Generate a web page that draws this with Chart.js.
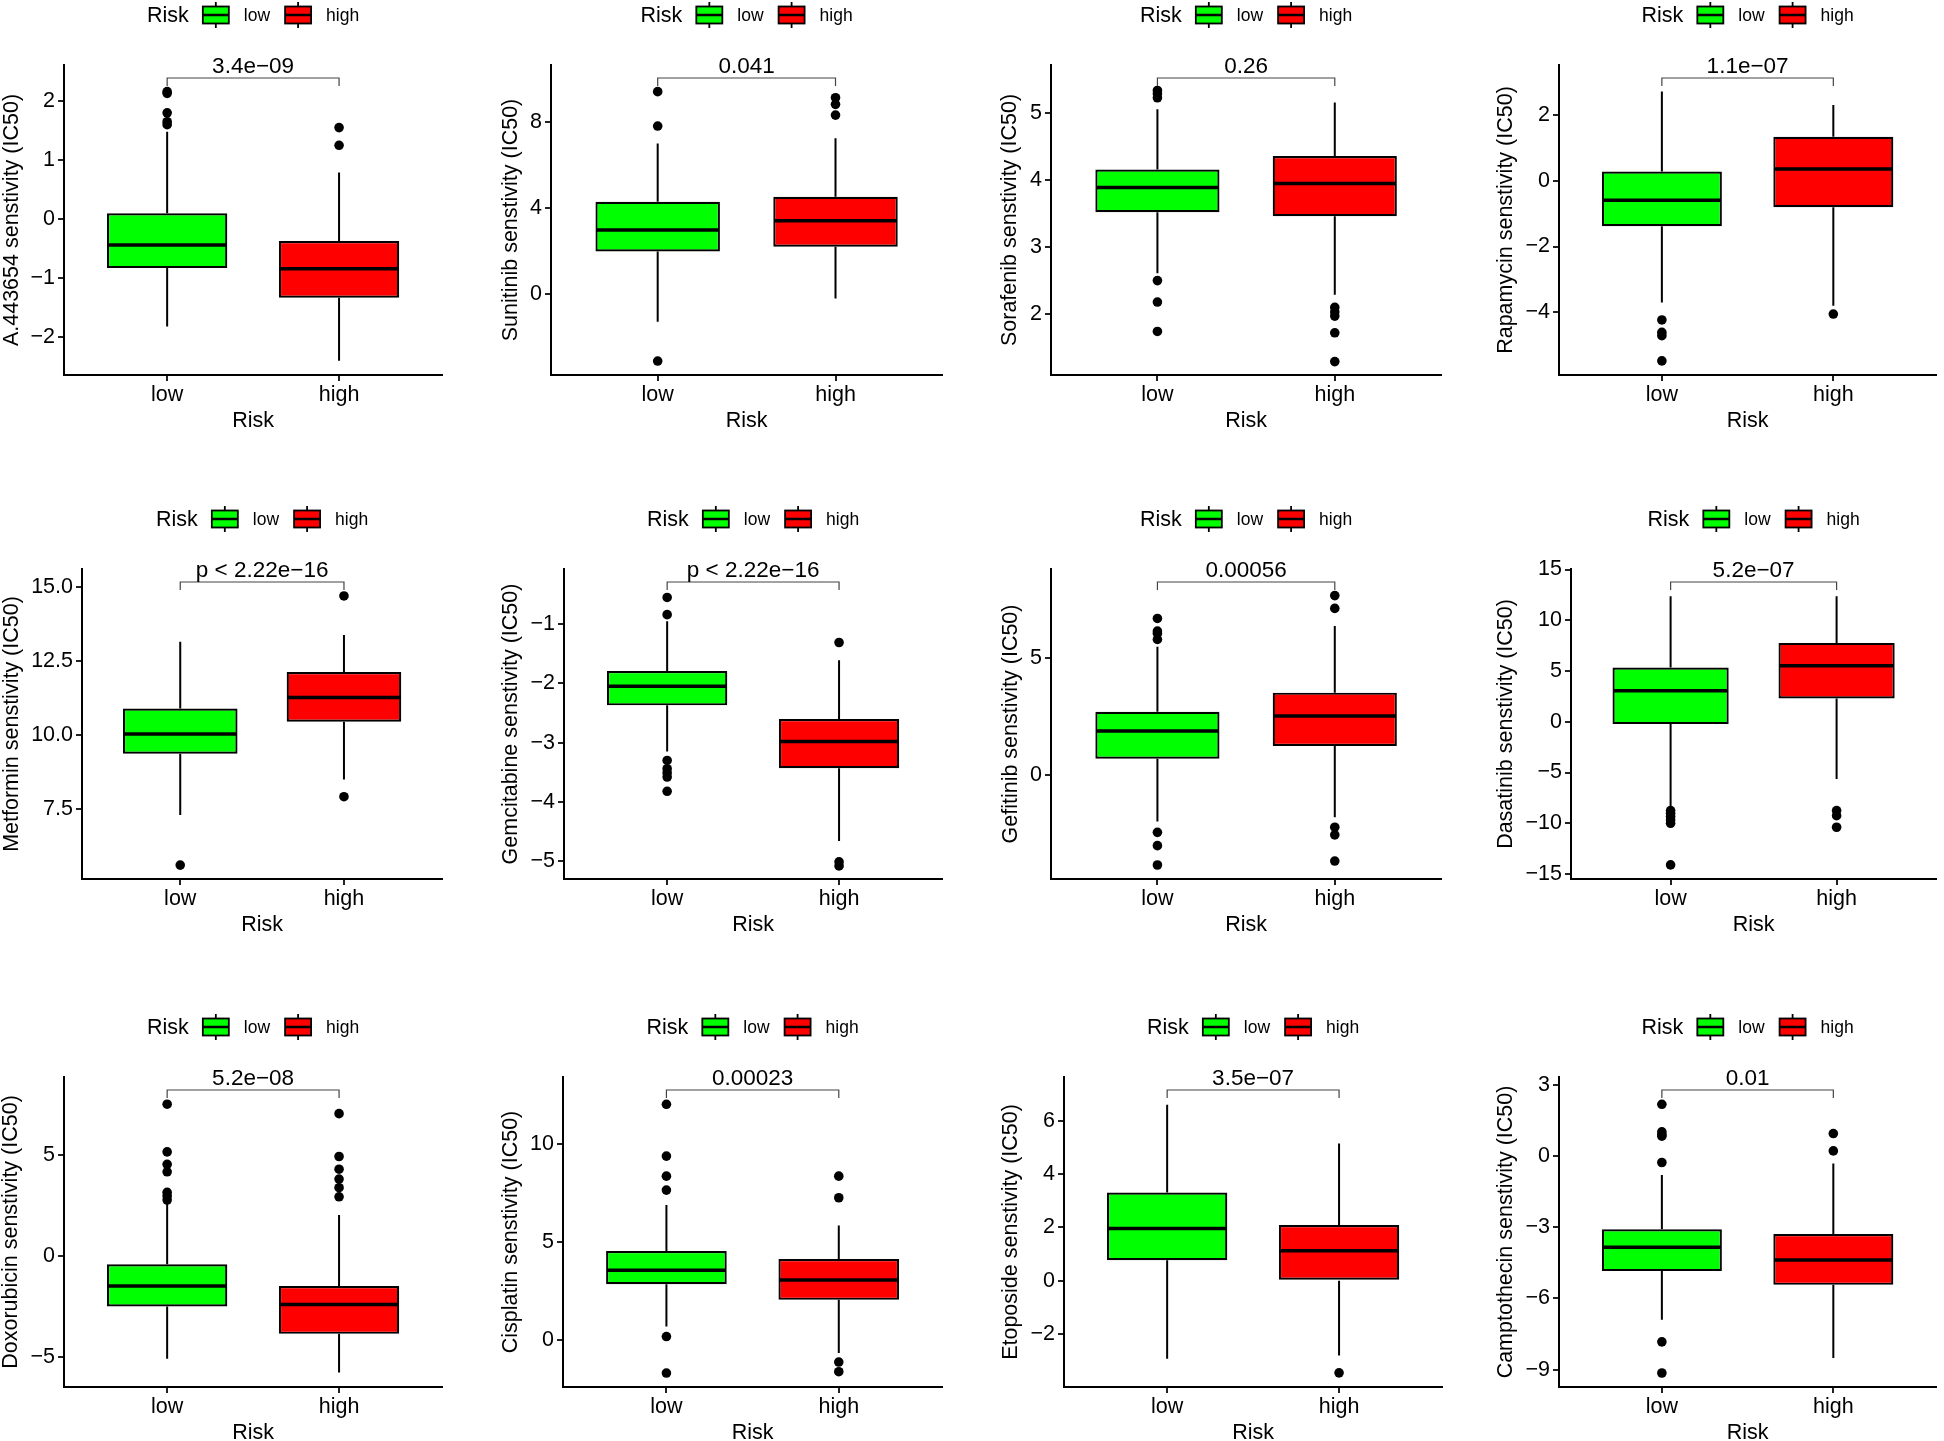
<!DOCTYPE html>
<html lang="en">
<head>
<meta charset="UTF-8">
<title>Drug sensitivity by risk group</title>
<script src="https://cdn.jsdelivr.net/npm/chart.js"></script>
<style>
  html, body { margin: 0; padding: 0; background: #fff; overflow: hidden; }
  body { width: 1944px; height: 1441px; position: relative; }
  .panel { position: absolute; }
</style>
</head>
<body>
<div id="wrap"></div>
<script>
// ---- data ----
const categories = ["low", "high"];
const groupTitle = "Risk";
const drugs = ["A.443654", "Sunitinib", "Sorafenib", "Rapamycin",
               "Metformin", "Gemcitabine", "Gefitinib", "Dasatinib",
               "Doxorubicin", "Cisplatin", "Etoposide", "Camptothecin"];
const pLabels = ["3.4e\u221209", "0.041", "0.26", "1.1e\u221207",
                 "p < 2.22e\u221216", "p < 2.22e\u221216", "0.00056", "5.2e\u221207",
                 "5.2e\u221208", "0.00023", "3.5e\u221207", "0.01"];

// [lower whisker, Q1, median, Q3, upper whisker]
const lowStats = [
  [-1.82, -0.83, -0.44, 0.10, 1.48],
  [-1.27, 2.00, 2.99, 4.31, 7.02],
  [2.61, 3.52, 3.89, 4.16, 5.06],
  [-3.71, -1.38, -0.59, 0.29, 2.73],
  [7.31, 9.38, 10.05, 10.91, 13.16],
  [-3.15, -2.37, -2.05, -1.79, -0.95],
  [-2.00, 0.70, 1.89, 2.71, 5.50],
  [-8.52, -0.23, 3.05, 5.34, 12.36],
  [-5.11, -2.51, -1.49, -0.41, 2.69],
  [0.71, 2.86, 3.58, 4.56, 6.90],
  [-2.92, 0.77, 1.96, 3.31, 6.60],
  [-6.90, -4.85, -3.85, -3.09, -0.81]
];
const highStats = [
  [-2.40, -1.33, -0.84, -0.37, 0.79],
  [-0.19, 2.22, 3.43, 4.54, 7.26],
  [2.29, 3.46, 3.95, 4.36, 5.16],
  [-3.81, -0.80, 0.37, 1.35, 2.32],
  [8.51, 10.46, 11.28, 12.14, 13.39],
  [-4.66, -3.43, -2.98, -2.60, -1.61],
  [-1.81, 1.24, 2.53, 3.53, 6.39],
  [-5.64, 2.30, 5.51, 7.77, 12.36],
  [-5.79, -3.87, -2.41, -1.49, 2.03],
  [-0.64, 2.07, 3.08, 4.15, 5.86],
  [-2.80, 0.00, 1.13, 2.09, 5.15],
  [-8.51, -5.43, -4.38, -3.29, -0.32]
];
const lowOutliers = [
  [2.16, 2.13, 1.80, 1.65, 1.60],
  [9.43, 7.83, -3.10],
  [5.34, 5.29, 5.23, 2.50, 2.18, 1.74],
  [-4.24, -4.62, -4.72, -5.49],
  [5.62],
  [-0.55, -0.84, -3.30, -3.44, -3.51, -3.58, -3.82],
  [6.71, 6.17, 6.07, 5.81, -2.46, -3.03, -3.86],
  [-8.75, -9.02, -9.34, -9.67, -10.0, -14.1],
  [7.54, 5.17, 4.55, 4.18, 3.16, 2.98, 2.78],
  [12.03, 9.39, 8.37, 7.66, 0.20, -1.66],
  [],
  [2.17, 1.01, 0.90, 0.83, -0.28, -7.83, -9.14]
];
const highOutliers = [
  [1.55, 1.25],
  [9.15, 8.84, 8.34],
  [2.10, 2.03, 1.97, 1.72, 1.29],
  [-4.06],
  [14.71, 7.93],
  [-1.31, -5.01, -5.08],
  [7.69, 7.14, -2.24, -2.57, -3.69],
  [-8.75, -9.25, -10.39],
  [7.07, 4.94, 4.31, 3.82, 3.39, 2.94],
  [8.37, 7.27, -1.10, -1.59],
  [-3.45],
  [0.94, 0.21]
];

const yMin = [-2.64, -3.75, 1.09, -5.92, 5.15, -5.30, -4.46, -15.49, -6.51, -2.37, -3.98, -9.73];
const yMax = [2.61, 10.67, 5.72, 3.54, 15.62, -0.07, 8.83, 15.05, 8.89, 13.42, 7.64, 3.32];
const yTicks = [
  [-2, -1, 0, 1, 2],
  [0, 4, 8],
  [2, 3, 4, 5],
  [-4, -2, 0, 2],
  [7.5, 10, 12.5, 15],
  [-5, -4, -3, -2, -1],
  [0, 5],
  [-15, -10, -5, 0, 5, 10, 15],
  [-5, 0, 5],
  [0, 5, 10],
  [-2, 0, 2, 4, 6],
  [-9, -6, -3, 0, 3]
];
const tickDecimals = [0, 0, 0, 0, 1, 0, 0, 0, 0, 0, 0, 0];

const groupColors = ["#00ff00", "#ff0000"];

// ---- grid layout (pixels) ----
const colX = [0, 486, 972, 1458];
const rowTop = [65, 569, 1077];      // top of each row's plotting area
const plotH = 310;
const legendSpace = 65;
const xAxisSpace = 66;
const axisLeft = [64, 65, 79, 101, 82, 78, 79, 113, 64, 77, 92, 101];
const plotRight = [447, 461, 474, 483, 447, 461, 474, 483, 447, 461, 475, 483];
const titleX = [12, 25, 38, 48, 12, 25, 39, 48, 11, 25, 39, 48];

const FONT = "'Liberation Sans', Arial, Helvetica, sans-serif";
const TXT = 21.5;
Chart.defaults.font.family = FONT;
Chart.defaults.color = "#000";

const fmt = (v, d) => v.toFixed(d).replace("-", "\u2212");

const boxPlugin = {
  id: "boxStats",
  beforeDatasetsDraw(chart, args, opts) {
    // whiskers
    const i = opts.index;
    const {ctx, scales: {x, y}} = chart;
    ctx.save();
    ctx.strokeStyle = "#000";
    ctx.lineWidth = 2;
    [lowStats[i], highStats[i]].forEach((s, k) => {
      const px = x.getPixelForValue(k + 1);
      ctx.beginPath();
      ctx.moveTo(px, y.getPixelForValue(s[3]));
      ctx.lineTo(px, y.getPixelForValue(s[4]));
      ctx.moveTo(px, y.getPixelForValue(s[1]));
      ctx.lineTo(px, y.getPixelForValue(s[0]));
      ctx.stroke();
    });
    ctx.restore();
  },
  afterDatasetsDraw(chart, args, opts) {
    const i = opts.index;
    const {ctx, scales: {x, y}, chartArea} = chart;
    const bars = chart.getDatasetMeta(0).data;
    ctx.save();
    // medians
    ctx.strokeStyle = "#000";
    ctx.lineWidth = 3.5;
    [lowStats[i], highStats[i]].forEach((s, k) => {
      const b = bars[k];
      const py = y.getPixelForValue(s[2]);
      ctx.beginPath();
      ctx.moveTo(b.x - b.width / 2 + 1, py);
      ctx.lineTo(b.x + b.width / 2 - 1, py);
      ctx.stroke();
    });
    // comparison bracket + p value
    const xa = x.getPixelForValue(1), xb = x.getPixelForValue(2);
    const yb = chartArea.top + 13;
    ctx.strokeStyle = "#444";
    ctx.lineWidth = 1.2;
    ctx.beginPath();
    ctx.moveTo(xa, yb + 8); ctx.lineTo(xa, yb); ctx.lineTo(xb, yb); ctx.lineTo(xb, yb + 8);
    ctx.stroke();
    ctx.fillStyle = "#000";
    ctx.font = "22.5px " + FONT;
    ctx.textAlign = "center";
    ctx.textBaseline = "alphabetic";
    ctx.fillText(pLabels[i], (xa + xb) / 2, yb - 5);
    ctx.restore();
  },
  afterDraw(chart) {
    // legend: title + boxplot keys
    const {ctx, chartArea} = chart;
    const cy = chartArea.top - 50;
    const keyW = 26, keyH = 17;
    ctx.save();
    ctx.font = TXT + "px " + FONT;
    const wTitle = ctx.measureText(groupTitle).width;
    ctx.font = "17.5px " + FONT;
    const wLab = categories.map(c => ctx.measureText(c).width);
    let total = wTitle + 14;
    wLab.forEach((w, k) => { total += keyW + 15 + w + (k < wLab.length - 1 ? 15 : 0); });
    let cx = (chartArea.left + chartArea.right) / 2 - total / 2;
    ctx.fillStyle = "#000";
    ctx.textAlign = "left";
    ctx.textBaseline = "middle";
    ctx.font = TXT + "px " + FONT;
    ctx.fillText(groupTitle, cx, cy + 1);
    cx += wTitle + 14;
    categories.forEach((c, k) => {
      const mid = cx + keyW / 2;
      ctx.strokeStyle = "#000";
      ctx.lineWidth = 1.8;
      ctx.beginPath(); ctx.moveTo(mid, cy - 13); ctx.lineTo(mid, cy + 13); ctx.stroke();
      ctx.fillStyle = groupColors[k];
      ctx.fillRect(cx, cy - keyH / 2, keyW, keyH);
      ctx.strokeRect(cx, cy - keyH / 2, keyW, keyH);
      ctx.lineWidth = 2.5;
      ctx.beginPath(); ctx.moveTo(cx, cy); ctx.lineTo(cx + keyW, cy); ctx.stroke();
      cx += keyW + 15;
      ctx.fillStyle = "#000";
      ctx.font = "17.5px " + FONT;
      ctx.fillText(c, cx, cy + 1);
      cx += wLab[k] + 15;
    });
    ctx.restore();
  }
};

function makePanel(i) {
  const col = i % 4, row = Math.floor(i / 4);
  const w = plotRight[i];
  const h = legendSpace + plotH + xAxisSpace;
  const div = document.createElement("div");
  div.className = "panel";
  div.style.left = colX[col] + "px";
  div.style.top = (rowTop[row] - legendSpace) + "px";
  const canvas = document.createElement("canvas");
  canvas.width = w; canvas.height = h;
  canvas.style.width = w + "px"; canvas.style.height = h + "px";
  div.appendChild(canvas);
  document.getElementById("wrap").appendChild(div);

  const stats = [lowStats[i], highStats[i]];
  const outliers = [];
  lowOutliers[i].forEach(v => outliers.push({x: 1, y: v}));
  highOutliers[i].forEach(v => outliers.push({x: 2, y: v}));

  new Chart(canvas, {
    type: "bar",
    data: {
      datasets: [
        {
          type: "bar",
          data: stats.map((s, k) => ({x: k + 1, y: [s[1], s[3]]})),
          backgroundColor: groupColors,
          borderColor: "#000",
          borderWidth: 2.2,
          borderSkipped: false,
          barPercentage: 0.7,
          categoryPercentage: 1,
          grouped: false,
          order: 2
        },
        {
          type: "scatter",
          data: outliers,
          pointRadius: 4.8,
          pointBackgroundColor: "#000",
          pointBorderWidth: 0,
          order: 1
        }
      ]
    },
    options: {
      responsive: false,
      animation: false,
      events: [],
      layout: { padding: { top: legendSpace, left: 0, right: 0, bottom: 0 } },
      plugins: {
        legend: { display: false },
        tooltip: { enabled: false },
        boxStats: { index: i }
      },
      scales: {
        x: {
          type: "linear",
          min: 0.4, max: 2.6,
          offset: false,
          afterBuildTicks: s => { s.ticks = categories.map((c, k) => ({value: k + 1})); },
          afterFit: s => { s.height = xAxisSpace; },
          ticks: {
            callback: (v, idx) => categories[idx],
            font: { size: TXT }, color: "#000", padding: 1, maxRotation: 0
          },
          grid: { display: true, offset: false, drawOnChartArea: false, drawTicks: true, tickLength: 6, color: "#222", lineWidth: 2 },
          border: { display: true, color: "#000", width: 2 },
          title: { display: true, text: groupTitle, font: { size: TXT }, color: "#000", padding: { top: 0, bottom: 7 } }
        },
        y: {
          type: "linear",
          min: yMin[i], max: yMax[i],
          afterBuildTicks: s => { s.ticks = yTicks[i].map(v => ({value: v})); },
          afterFit: s => { s.width = axisLeft[i]; },
          ticks: {
            callback: v => fmt(v, tickDecimals[i]),
            font: { size: TXT }, color: "#000", padding: 3
          },
          grid: { display: true, drawOnChartArea: false, drawTicks: true, tickLength: 6, color: "#222", lineWidth: 2 },
          border: { display: true, color: "#000", width: 2 },
          title: {
            display: true, text: drugs[i] + " senstivity (IC50)",
            font: { size: TXT }, color: "#000",
            padding: { top: titleX[i] - TXT * 0.6, bottom: 0 }
          }
        }
      }
    },
    plugins: [boxPlugin]
  });
}

for (let i = 0; i < drugs.length; i++) makePanel(i);
</script>
</body>
</html>
